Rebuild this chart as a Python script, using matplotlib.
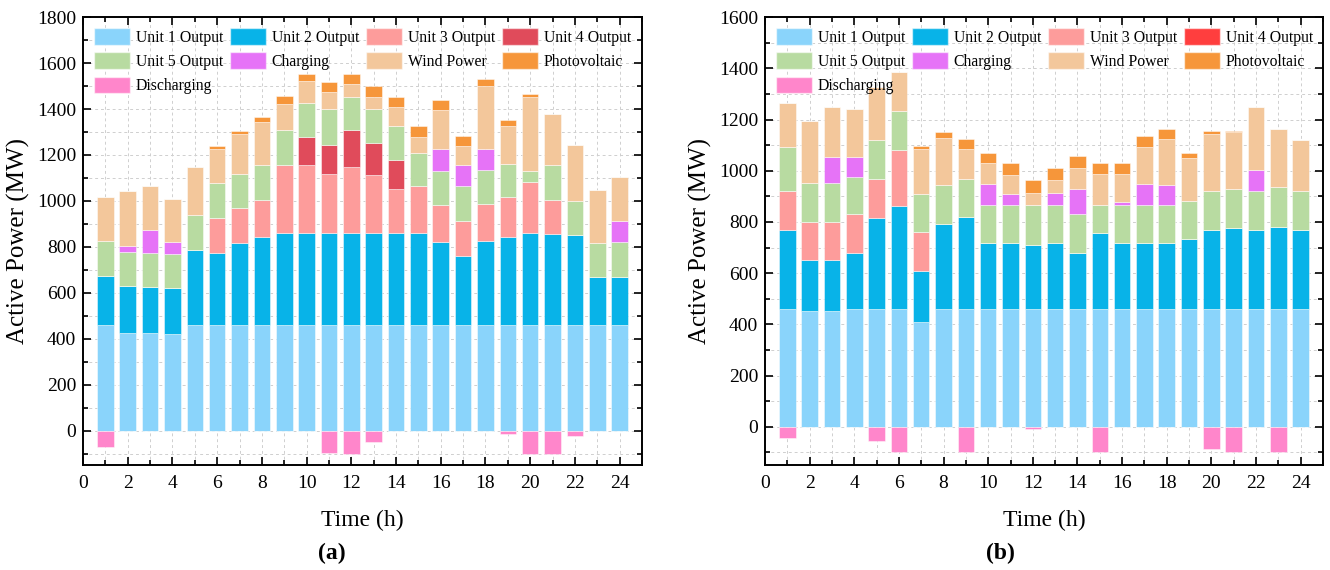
import matplotlib
matplotlib.use('Agg')
import matplotlib.pyplot as plt
import matplotlib.ticker as ticker
from matplotlib.patches import Patch
import numpy as np

plt.rcParams['font.family'] = ['Liberation Serif', 'DejaVu Serif']
plt.rcParams['mathtext.fontset'] = 'stix'

hours = list(range(1, 25))

series_names = ['Unit 1 Output', 'Unit 2 Output', 'Unit 3 Output', 'Unit 4 Output',
                'Unit 5 Output', 'Charging', 'Wind Power', 'Photovoltaic', 'Discharging']

# panel (a)
unit1_a = [462, 427, 424, 420, 458, 458, 458, 458, 458, 458, 458, 458,
           458, 458, 458, 458, 458, 458, 458, 458, 458, 458, 458, 458]
unit2_a = [211, 203, 202, 203, 330, 315, 357, 383, 401, 401, 401, 401,
           401, 401, 401, 364, 302, 367, 385, 402, 399, 392, 212, 211]
unit3_a = [0, 0, 0, 0, 0, 151, 154, 165, 297, 299, 256, 289,
           255, 191, 205, 160, 151, 160, 172, 223, 145, 0, 0, 0]
unit4_a = [0, 0, 0, 0, 0, 0, 0, 0, 0, 121, 129, 160,
           139, 126, 0, 0, 0, 0, 0, 0, 0, 0, 0, 0]
unit5_a = [151, 148, 146, 144, 152, 152, 149, 150, 153, 149, 156, 146,
           147, 149, 145, 147, 152, 149, 146, 45, 154, 148, 148, 153]
charge_a = [0, 26, 100, 54, 0, 0, 0, 0, 0, 0, 0, 0,
            0, 0, 0, 96, 95, 91, 0, 0, 0, 0, 0, 89]
wind_a = [192, 241, 192, 188, 207, 152, 172, 186, 114, 92, 73, 56,
          52, 82, 70, 172, 80, 274, 164, 323, 221, 246, 229, 194]
pv_a = [0, 0, 0, 0, 0, 12, 16, 25, 35, 34, 46, 44,
        50, 44, 48, 44, 43, 33, 25, 14, 0, 0, 0, 0]
discharge_a = [-72, 0, 0, 0, 0, 0, 0, 0, 0, 0, -96, -100,
               -49, 0, 0, 0, 0, 0, -15, -100, -100, -25, 0, 0]

# panel (b)
unit1_b = [461, 452, 452, 461, 461, 461, 410, 461, 461, 461, 461, 461,
           461, 461, 461, 461, 461, 461, 461, 461, 461, 461, 461, 461]
unit2_b = [309, 201, 201, 216, 355, 400, 200, 331, 358, 256, 256, 249,
           256, 217, 294, 255, 255, 255, 271, 308, 316, 308, 321, 308]
unit3_b = [151, 148, 148, 152, 152, 218, 150, 0, 0, 0, 0, 0,
           0, 0, 0, 0, 0, 0, 0, 0, 0, 0, 0, 0]
unit4_b = [0] * 24
unit5_b = [171, 151, 151, 148, 153, 155, 149, 151, 150, 151, 151, 155,
           151, 153, 110, 149, 150, 150, 151, 153, 152, 153, 153, 153]
charge_b = [0, 0, 101, 78, 0, 0, 0, 0, 0, 80, 41, 0,
            45, 99, 0, 14, 83, 77, 0, 0, 0, 82, 0, 0]
wind_b = [172, 243, 194, 187, 206, 153, 175, 183, 117, 84, 75, 49,
          52, 79, 122, 108, 142, 182, 166, 221, 222, 244, 229, 196]
pv_b = [0, 0, 0, 0, 0, 0, 13, 27, 37, 39, 45, 50,
        45, 47, 45, 45, 45, 37, 22, 14, 5, 0, 0, 0]
discharge_b = [-45, 0, 0, 0, -55, -100, 0, 0, -100, 0, 0, -10,
               0, 0, -100, 0, 0, 0, 0, -86, -100, 0, -100, 0]

colors_a = ['#8AD4FB', '#08B3E8', '#FD9C9B', '#E04B5B', '#B8DBA1',
            '#E673F7', '#F3C79B', '#F6963A', '#FF86CB']
colors_b = ['#8AD4FB', '#08B3E8', '#FD9C9B', '#FF3E3E', '#B8DBA1',
            '#E673F7', '#F3C79B', '#F6963A', '#FF86CB']


def drawPanel(ax, data, colors, ymax, major):
    '''Stacked bars: positive parts stacked upward, discharging drawn below zero'''
    bottom = np.zeros(len(hours))
    for vals, col in zip(data[:-1], colors[:-1]):
        vals = np.asarray(vals, dtype=float)
        ax.bar(hours, vals, width=0.74, bottom=bottom, color=col,
               edgecolor=(1, 1, 1, 0.55), linewidth=0.6, zorder=3)
        bottom = bottom + vals
    ax.bar(hours, data[-1], width=0.74, color=colors[-1],
           edgecolor=(1, 1, 1, 0.55), linewidth=0.6, zorder=3)

    ax.set_xlim(0, 25)
    ax.set_ylim(-150, ymax)
    ax.xaxis.set_major_locator(ticker.MultipleLocator(2))
    ax.xaxis.set_minor_locator(ticker.MultipleLocator(1))
    ax.yaxis.set_major_locator(ticker.MultipleLocator(major))
    ax.yaxis.set_minor_locator(ticker.MultipleLocator(major / 2))
    ax.set_yticks([v for v in range(0, ymax + 1, major)])
    ax.tick_params(which='both', direction='in', top=True, right=True,
                   labelsize=14, width=1.2)
    ax.tick_params(which='major', length=6)
    ax.tick_params(which='minor', length=3.5)
    ax.tick_params(axis='x', which='major', pad=7)
    ax.tick_params(axis='y', which='major', pad=5)
    ax.grid(True, which='both', linestyle=(0, (3, 3)), color='#cfcfcf',
            linewidth=0.7, zorder=0)
    for sp in ax.spines.values():
        sp.set_linewidth(1.4)
    ax.set_xlabel('Time (h)', fontsize=17, labelpad=13)
    ax.set_ylabel('Active Power (MW)', fontsize=18, labelpad=5)

    handles = [Patch(facecolor=c, edgecolor=(1, 1, 1, 0.55), label=n)
               for n, c in zip(series_names, colors)]
    order = [0, 4, 8, 1, 5, 2, 6, 3, 7]
    ax.legend([handles[i] for i in order], [series_names[i] for i in order],
              loc='upper left', bbox_to_anchor=(0.0, 1.0), ncol=4, frameon=False,
              fontsize=11.3, handlelength=2.3, handleheight=1.27,
              handletextpad=0.35, columnspacing=0.45, labelspacing=0.42,
              borderaxespad=0.3, borderpad=0.4)


def main():
    fig = plt.figure(figsize=(13.3, 5.7), dpi=100)
    ax_a = fig.add_axes([0.0624, 0.184, 0.4203, 0.786])
    ax_b = fig.add_axes([0.5752, 0.184, 0.4195, 0.786])

    drawPanel(ax_a, [unit1_a, unit2_a, unit3_a, unit4_a, unit5_a, charge_a,
                     wind_a, pv_a, discharge_a], colors_a, 1800, 200)
    drawPanel(ax_b, [unit1_b, unit2_b, unit3_b, unit4_b, unit5_b, charge_b,
                     wind_b, pv_b, discharge_b], colors_b, 1600, 200)

    fig.text(332 / 1330, 1 - 553 / 570, '(a)', ha='center', va='center',
             fontsize=17, fontweight='bold')
    fig.text(1000 / 1330, 1 - 553 / 570, '(b)', ha='center', va='center',
             fontsize=17, fontweight='bold')

    fig.savefig('out.png', dpi=100)


main()
